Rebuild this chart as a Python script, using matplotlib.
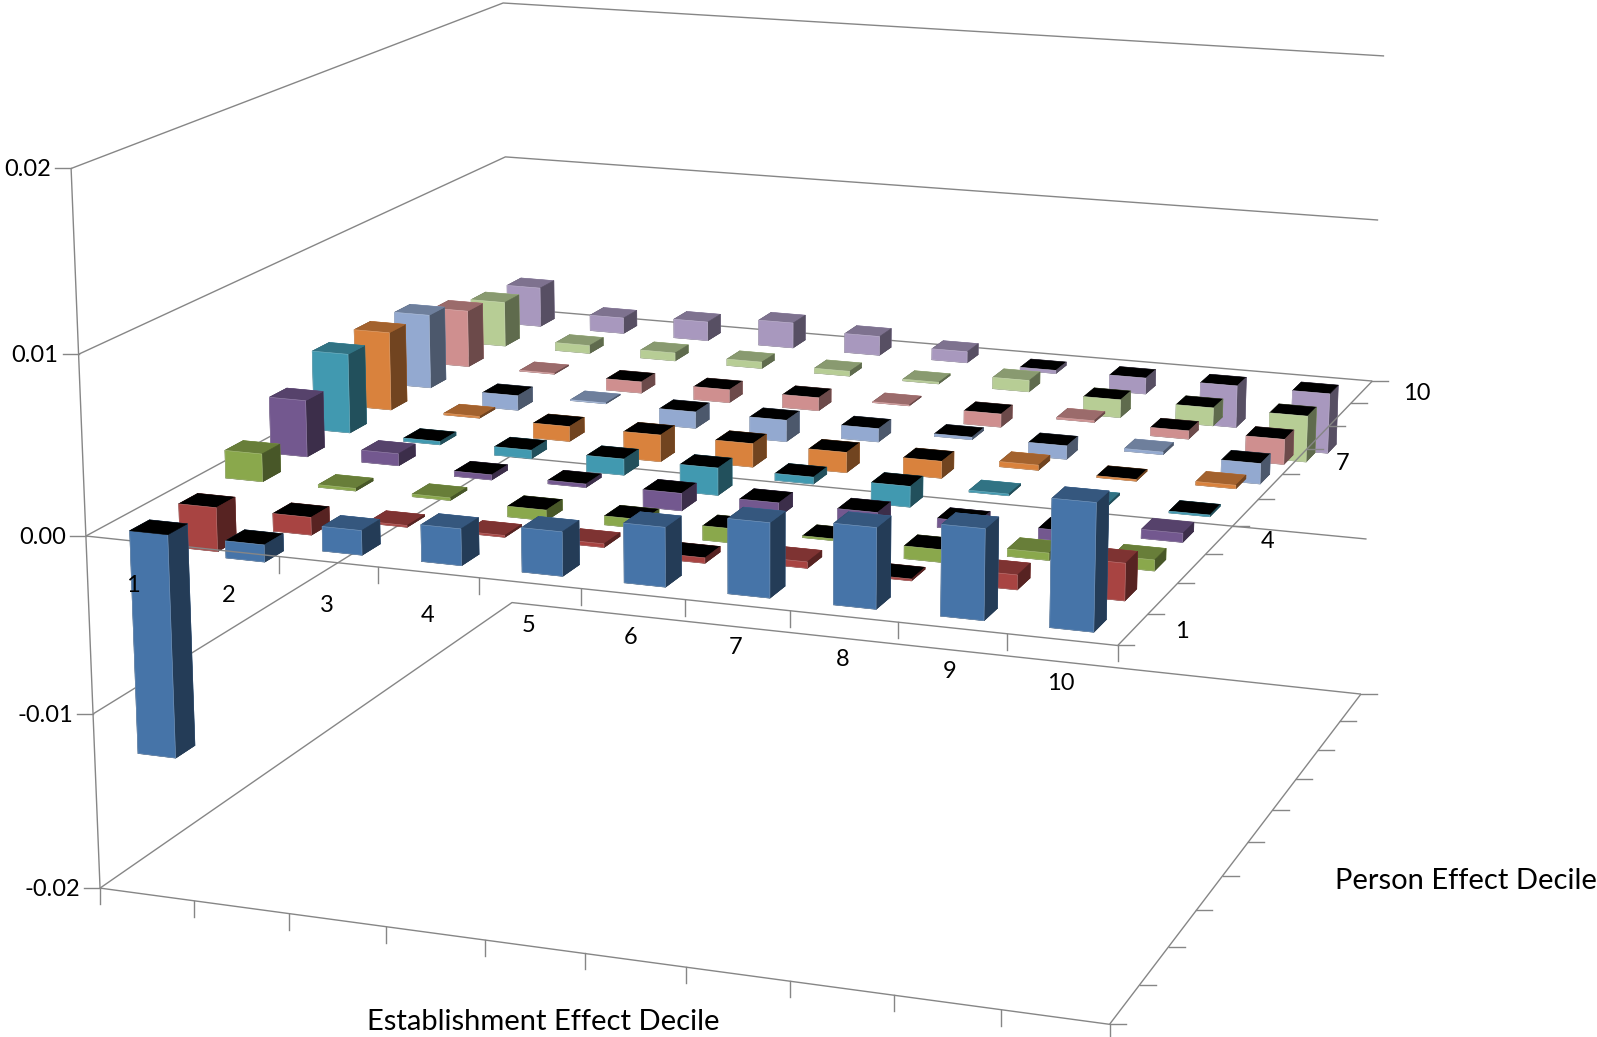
# Decile effects chart: 3D bars on a fitted perspective camera
import numpy as np
import matplotlib

matplotlib.use("Agg")
import matplotlib.pyplot as plt
from matplotlib.colors import to_rgb
from matplotlib.lines import Line2D

# ----------------------------------------------------------------------------------------------
# 1. Data: one list per person effect decile, ordered by establishment effect decile
# ----------------------------------------------------------------------------------------------
person_1 = [-0.0126, -0.00095, 0.00135, 0.0020, 0.0024, 0.0032, 0.0040, 0.0043, 0.0048, 0.0067]
person_2 = [-0.0025, -0.0010, 0.0001, 0.0001, 0.0002, -0.0003, 0.00035, -0.0001, 0.0008, 0.0020]
person_3 = [0.0016, 0.00015, 0.00015, -0.0006, -0.0005, -0.0008, -0.0001, -0.0007, 0.0004, 0.0006]
person_4 = [0.0033, 0.0007, -0.0003, -0.0002, -0.0010, -0.0008, -0.0008, -0.0005, -0.0006, 0.0005]
person_5 = [0.0047, -0.0002, -0.0005, -0.00095, -0.0016, -0.0004, -0.0012, 0.0001, 0.0001, -0.0001]
person_6 = [0.0047, 0.0001, -0.0009, -0.0016, -0.0014, -0.0012, -0.0010, 0.0003, -0.0001, 0.0002]
person_7 = [0.0045, -0.0009, 0.00005, -0.0010, -0.0013, -0.0008, -0.00015, -0.0008, 0.00015, -0.0012]
person_8 = [0.0035, 0.00005, -0.0007, -0.0008, -0.0008, 0.00005, -0.0008, 0.0001, -0.0005, -0.0015]
person_9 = [0.0028, 0.0005, 0.0005, 0.0004, 0.0003, 0.0001, 0.0007, -0.0011, -0.0011, -0.0028]
person_10 = [0.0025, 0.0010, 0.0012, 0.0016, 0.0012, 0.0007, -0.0002, -0.0010, -0.0026, -0.0037]
person_rows = [person_1, person_2, person_3, person_4, person_5,
               person_6, person_7, person_8, person_9, person_10]

series_colors = ["#4674A8", "#A84442", "#8AA84C", "#73588F", "#4199B0",
                 "#D9823D", "#93A9D0", "#CF8F8F", "#B7CD95", "#A898BE"]

z_ticks = [0.02, 0.01, 0.00, -0.01, -0.02]
z_labels = ["0.02", "0.01", "0.00", "-0.01", "-0.02"]
x_labels = ["1", "2", "3", "4", "5", "6", "7", "8", "9", "10"]
y_labels = ["1", "4", "7", "10"]

# ----------------------------------------------------------------------------------------------
# 2. Camera: 3x4 projection solved from where the frame corners sit on the canvas
# ----------------------------------------------------------------------------------------------
W, H = 1597, 1037
frame_points = [
    (0, 0, 0.02, 71.3, 168), (0, 0, 0.01, 78.3, 354.3), (0, 0, 0.0, 86, 536),
    (0, 0, -0.01, 93.3, 714), (0, 0, -0.02, 100, 888.3),
    (0, 10, 0.02, 503.3, 3.3), (0, 10, 0.01, 505.7, 156.7), (0, 10, 0.0, 507, 308),
    (0, 10, -0.01, 509, 457), (0, 10, -0.02, 512.7, 602.3),
    (10, 10, 0.02, 1384, 56), (10, 10, 0.01, 1378.3, 220), (10, 10, 0.0, 1372.3, 381),
    (10, 10, -0.01, 1366.7, 539.3), (10, 10, -0.02, 1361, 693.7),
    (10, 0, 0.0, 1117.7, 645.7), (10, 0, -0.02, 1109.3, 1024.3),
]


def fit_camera(points):
    # direct linear transform, z rescaled so the system stays well conditioned
    rows = []
    for x, y, z, u, v in points:
        u, v = u / 1000, (H - v) / 1000
        X = [x, y, z * 500, 1]
        rows.append(X + [0, 0, 0, 0] + [-u * c for c in X])
        rows.append([0, 0, 0, 0] + X + [-v * c for c in X])
    P = np.linalg.svd(np.array(rows))[2][-1].reshape(3, 4)
    P[:2] *= 1000
    P[:, 2] *= 500
    if P[2] @ np.array([5, 5, 0, 1]) < 0:
        P = -P
    return P


P = fit_camera(frame_points)


def project(x, y, z):
    u, v, w = P @ np.array([x, y, z, 1.0])
    return u / w, v / w


# ----------------------------------------------------------------------------------------------
# 3. Axes
# ----------------------------------------------------------------------------------------------
plt.rcParams["font.family"] = ["Lato", "DejaVu Sans"]
fig = plt.figure(figsize=(W / 100, H / 100), dpi=100)
ax = fig.add_axes([0, 0, 1, 1], projection="3d", computed_zorder=False)
ax.set_axis_off()
ax.set_proj_type("ortho")  # keeps Line3D from masking points outside [-1, 1]
ax.apply_aspect = lambda position=None: None
ax.viewLim.intervalx = (0, W)
ax.viewLim.intervaly = (0, H)
# depth row is -1/w, so the far faces of a bar are painted first
ax.get_proj = lambda: np.array([P[0], P[1], [0, 0, 0, -1.0], P[2]])

# ----------------------------------------------------------------------------------------------
# 4. Walls, floor and axis lines
# ----------------------------------------------------------------------------------------------
LINE = "#868686"
LW = 1.0
TICK = 16


def line3d(xs, ys, zs, zorder=1):
    ax.plot(xs, ys, zs, color=LINE, lw=LW, zorder=zorder, solid_capstyle="butt")


def tick(x, y, z, dx=0, dy=0, zorder=1):
    u, v = project(x, y, z)
    ax.add_line(Line2D([u, u + dx], [v, v + dy], color=LINE, lw=LW, zorder=zorder))


# gridlines run along the side wall and then the back wall
for z in z_ticks:
    line3d([0, 0, 10], [0, 10, 10], [z, z, z])
    tick(0, 0, z, dx=-TICK)
line3d([0, 0], [0, 0], [-0.02, 0.02])
line3d([0, 10, 10], [0, 0, 10], [-0.02, -0.02, -0.02])
tick(0, 0, -0.02, dy=-TICK)

OVER = 5000
line3d([0, 10, 10], [0, 0, 10], [0, 0, 0], zorder=OVER)
for i in range(1, 11):
    tick(i, 0, -0.02, dy=-TICK)
    tick(i, 0, 0, dy=-TICK, zorder=OVER)
for j in range(0, 11):
    tick(10, j, -0.02, dx=TICK)
    tick(10, j, 0, dx=TICK, zorder=OVER)

# ----------------------------------------------------------------------------------------------
# 5. Bars: negative values get a black cap, positive a darkened one
# ----------------------------------------------------------------------------------------------
BAR = 0.40


def shade(color, factor):
    return tuple(c * factor for c in to_rgb(color))


def tint(color, amount):
    return tuple(c + (1 - c) * amount for c in to_rgb(color))


for j, row in enumerate(person_rows):
    for i, value in enumerate(row):
        front = series_colors[j]
        top = "#000000" if value < 0 else shade(front, 0.75)
        side = shade(front, 0.52)
        # bar3d face order: bottom, top, front, back, left, right
        faces = [shade(front, 0.4), top, front, front, side, side]
        edges = [faces[0], top, tint(front, 0.3), front, side, side]
        bar = ax.bar3d(
            i + 0.5 - BAR / 2, j + 0.5 - BAR / 2, min(value, 0),
            BAR, BAR, abs(value),
            color=faces, shade=False, edgecolor=edges, linewidth=0.4,
        )
        # back rows first, and left to right within a row
        bar.set_zorder(OVER + 100 if (i == 0 and j == 0) else (10 - j) * 100 + i)

# ----------------------------------------------------------------------------------------------
# 6. Text
# ----------------------------------------------------------------------------------------------
FONT = 17


def label(px, py, text, ha="center", size=FONT):
    ax.text2D(px, H - py, text, ha=ha, va="center", fontsize=size, color="black", zorder=OVER + 200)


z_label_right = [51, 58, 66, 73, 80]
z_label_y = [170, 356, 538, 716, 890]
for px, py, text in zip(z_label_right, z_label_y, z_labels):
    label(px, py, text, ha="right")

x_label_px = [133, 229, 327, 428, 529, 631, 736, 843, 950, 1061]
x_label_py = [585, 595, 605, 616, 626, 638, 648, 660, 671, 683]
for px, py, text in zip(x_label_px, x_label_py, x_labels):
    label(px, py, text)

y_label_px = [1182, 1268, 1343, 1417]
y_label_py = [632, 542, 464, 394]
for px, py, text in zip(y_label_px, y_label_py, y_labels):
    label(px, py, text)

label(543, 1022, "Establishment Effect Decile", size=21)
label(1466, 881, "Person Effect Decile", size=21)

fig.savefig("out.png", dpi=100)
